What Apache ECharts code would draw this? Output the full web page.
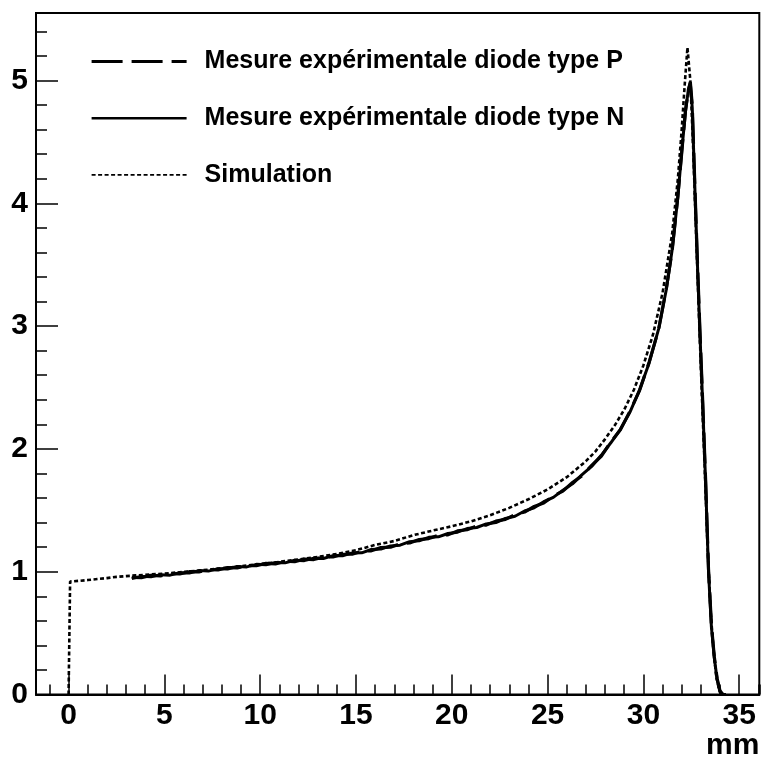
<!DOCTYPE html>
<html>
<head>
<meta charset="utf-8">
<script src="https://cdn.jsdelivr.net/npm/echarts@6/dist/echarts.min.js"></script>
<style>
  html, body { margin: 0; padding: 0; background: #fff; }
  #chart { width: 765px; height: 763px; }
</style>
</head>
<body>
<div id="chart"></div>
<script>
// Depth-dose profiles along the beam axis (mm)
const seriesNames = [
  'Mesure expérimentale diode type P',
  'Mesure expérimentale diode type N',
  'Simulation'
];
const axisUnit = 'mm';

// P-type diode measurement
const xP = [3.3,3.8,4.3,4.8,5.3,5.8,6.3,6.8,7.3,7.8,8.3,8.8,9.3,9.8,10.3,10.8,11.3,11.8,12.3,12.8,
  13.3,13.8,14.3,14.8,15.3,15.8,16.3,16.8,17.3,17.8,18.3,18.8,19.3,19.8,20.3,20.8,21.3,21.8,22.3,22.8,
  23.3,23.8,24.3,24.8,25.3,25.8,26.3,26.8,27.3,27.8,28.3,28.8,29.3,29.8,30.3,30.8,31.2,31.5,31.8,32.0,
  32.2,32.35,32.45,32.55,32.65,32.8,32.95,33.1,33.25,33.4,33.55,33.7,33.85,34.0,34.15,34.3];
const yP = [0.954,0.952,0.970,0.966,0.984,0.982,1.000,0.999,1.017,1.014,1.034,1.031,1.051,1.049,1.068,1.064,1.084,1.082,1.102,1.099,
  1.120,1.120,1.142,1.143,1.166,1.170,1.196,1.200,1.228,1.234,1.262,1.270,1.296,1.300,1.332,1.342,1.372,1.380,1.412,1.426,
  1.464,1.486,1.532,1.560,1.616,1.656,1.726,1.782,1.866,1.940,2.056,2.156,2.306,2.476,2.706,2.975,3.310,3.610,4.060,4.410,
  4.760,4.920,4.990,4.800,4.320,3.620,2.970,2.370,1.740,1.020,0.570,0.310,0.130,0.030,0.000,0.000];

// N-type diode measurement
const xN = [3.3,3.8,4.3,4.8,5.3,5.8,6.3,6.8,7.3,7.8,8.3,8.8,9.3,9.8,10.3,10.8,11.3,11.8,12.3,12.8,
  13.3,13.8,14.3,14.8,15.3,15.8,16.3,16.8,17.3,17.8,18.3,18.8,19.3,19.8,20.3,20.8,21.3,21.8,22.3,22.8,
  23.3,23.8,24.3,24.8,25.3,25.8,26.3,26.8,27.3,27.8,28.3,28.8,29.3,29.8,30.3,30.8,31.2,31.5,31.8,32.0,
  32.2,32.35,32.45,32.55,32.65,32.8,32.95,33.1,33.25,33.4,33.55,33.7,33.85,34.0,34.15,34.3];
const yN = [0.944,0.962,0.958,0.976,0.972,0.992,0.990,1.009,1.005,1.025,1.022,1.042,1.039,1.060,1.056,1.075,1.072,1.093,1.090,1.110,
  1.108,1.131,1.130,1.153,1.154,1.181,1.184,1.210,1.216,1.245,1.252,1.280,1.284,1.311,1.322,1.351,1.360,1.389,1.400,1.434,
  1.452,1.494,1.520,1.570,1.605,1.664,1.716,1.790,1.857,1.948,2.050,2.160,2.300,2.480,2.700,2.980,3.300,3.620,4.050,4.420,
  4.750,4.930,4.980,4.780,4.300,3.600,2.950,2.350,1.720,1.000,0.550,0.300,0.120,0.020,0.000,0.000];

// Simulated profile
const xSim = [0,0.08,0.5,1,1.5,2,2.5,3,3.5,4,5,6,7,8,9,10,11,12,13,14,15,16,17,18,19,20,21,22,23,24,25,26,
  27,27.5,28,28.5,29,29.5,30,30.5,31,31.5,31.8,32.0,32.15,32.3,32.45,32.6,32.75,32.9,33.05,33.2,33.35,
  33.5,33.65,33.8,33.95,34.1,34.3];
const ySim = [0,0.920,0.925,0.932,0.940,0.948,0.958,0.964,0.970,0.975,0.985,0.998,1.012,1.028,1.045,1.062,1.080,1.100,1.120,1.145,
  1.175,1.218,1.250,1.298,1.335,1.370,1.410,1.460,1.520,1.590,1.670,1.770,1.900,1.980,2.080,2.190,2.320,2.480,2.680,2.930,
  3.270,3.750,4.200,4.600,4.950,5.270,5.000,4.450,3.750,3.100,2.450,1.850,1.200,0.700,0.380,0.150,0.040,0.000,0.000];

const pairs = (xs, ys) => xs.map((x, i) => [x, ys[i]]);

const FONT = 'Liberation Sans';
const X_MIN = -1.7, X_MAX = 36.05;
const Y_MIN = 0, Y_MAX = 5.55;

const chart = echarts.init(document.getElementById('chart'), null, { renderer: 'canvas' });

const option = {
  animation: false,
  backgroundColor: '#ffffff',
  grid: {
    left: 36, right: 5.7, top: 13, bottom: 68.5,
    outerBoundsMode: 'none', containLabel: false,
    show: true, borderColor: '#000', borderWidth: 2, backgroundColor: 'transparent'
  },
  legend: {
    orient: 'vertical',
    left: 90, top: 49, padding: 0,
    itemWidth: 95, itemHeight: 25, itemGap: 31.7,
    textStyle: { fontFamily: FONT, fontWeight: 'bold', fontSize: 25, color: '#000', padding: [0, 0, 0, 13] },
    data: [
      { name: seriesNames[0], itemStyle: { opacity: 0 }, lineStyle: { color: '#000', width: 3.2, type: [31, 9] } },
      { name: seriesNames[1], itemStyle: { opacity: 0 }, lineStyle: { color: '#000', width: 2.4, type: 'solid' } },
      { name: seriesNames[2], itemStyle: { opacity: 0 }, lineStyle: { color: '#000', width: 1.8, type: [4, 2.5] } }
    ]
  },
  xAxis: [
    {
      type: 'value', min: X_MIN, max: X_MAX, splitNumber: 8,
      name: axisUnit, nameLocation: 'end', nameGap: 0,
      nameTextStyle: { fontFamily: FONT, fontWeight: 'bold', fontSize: 30, color: '#000',
        align: 'right', verticalAlign: 'top', padding: [36, 0, 0, 0] },
      axisLine: { show: true, onZero: false, lineStyle: { color: '#000', width: 2 } },
      axisTick: { show: true, inside: true, length: 20, lineStyle: { color: '#000', width: 1.5 } },
      axisLabel: { showMinLabel: false, showMaxLabel: false, margin: 6,
        fontFamily: FONT, fontWeight: 'bold', fontSize: 30, color: '#000' },
      splitLine: { show: false }
    },
    {
      type: 'value', min: X_MIN, max: X_MAX, splitNumber: 38, position: 'bottom',
      axisLine: { show: false, onZero: false },
      axisTick: { show: true, inside: true, length: 10, lineStyle: { color: '#000', width: 1.5 } },
      axisLabel: { show: false },
      splitLine: { show: false }
    }
  ],
  yAxis: [
    {
      type: 'value', min: Y_MIN, max: Y_MAX, splitNumber: 5,
      axisLine: { show: true, onZero: false, lineStyle: { color: '#000', width: 2 } },
      axisTick: { show: true, inside: true, length: 22, lineStyle: { color: '#000', width: 1.5 } },
      axisLabel: { showMaxLabel: false, margin: 8,
        fontFamily: FONT, fontWeight: 'bold', fontSize: 30, color: '#000' },
      splitLine: { show: false }
    },
    {
      type: 'value', min: Y_MIN, max: Y_MAX, splitNumber: 28, position: 'left',
      axisLine: { show: false, onZero: false },
      axisTick: { show: true, inside: true, length: 11, lineStyle: { color: '#000', width: 1.5 } },
      axisLabel: { show: false },
      splitLine: { show: false }
    }
  ],
  series: [
    {
      name: seriesNames[0], type: 'line', data: pairs(xP, yP),
      symbol: 'none', showSymbol: false, silent: true,
      lineStyle: { color: '#000', width: 3.2, type: [31, 9] }, z: 3
    },
    {
      name: seriesNames[1], type: 'line', data: pairs(xN, yN),
      symbol: 'none', showSymbol: false, silent: true,
      lineStyle: { color: '#000', width: 3, type: 'solid' }, z: 4
    },
    {
      name: seriesNames[2], type: 'line', data: pairs(xSim, ySim),
      symbol: 'none', showSymbol: false, silent: true,
      lineStyle: { color: '#000', width: 2.6, type: [4, 2.5] }, z: 5
    }
  ]
};

chart.setOption(option);
</script>
</body>
</html>
